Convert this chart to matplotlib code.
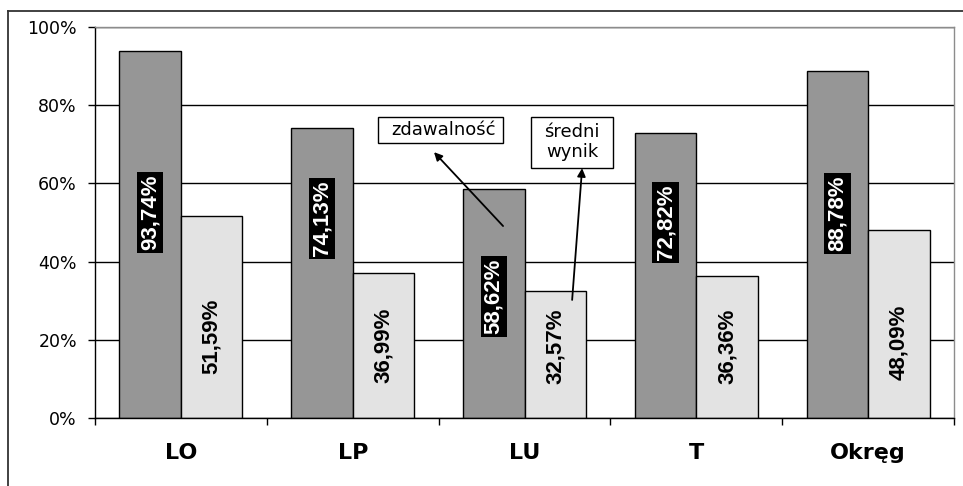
import numpy as np
import matplotlib
matplotlib.use("Agg")
import matplotlib.pyplot as plt
from matplotlib.patches import Rectangle
from matplotlib.lines import Line2D
from matplotlib import font_manager

# Data
categories = ["LO", "LP", "LU", "T", "Okręg"]
zdawalnosc = [93.74, 74.13, 58.62, 72.82, 88.78]
sredni_wynik = [51.59, 36.99, 32.57, 36.36, 48.09]
yticks = [0, 20, 40, 60, 80, 100]

# label heights (centre of rotated value labels), as placed in the original
dark_label_y = [52.6, 51.0, 31.1, 50.0, 52.4]
light_label_y = [20.8, 18.5, 18.4, 18.3, 19.4]

dark_color = "#969696"
light_color = "#e3e3e3"

names = {f.name for f in font_manager.fontManager.ttflist}
if "Liberation Sans Narrow" in names:
    lab_family, lab_size = "Liberation Sans Narrow", 19.5
else:
    lab_family, lab_size = "Liberation Sans", 16


def pct(v):
    return f"{v:.2f}%".replace(".", ",")


fig = plt.figure(figsize=(9.63, 4.86), dpi=100)
ax = fig.add_axes([0.0987, 0.1399, 0.892, 0.8045])

x = np.arange(len(categories))
w = 0.358

ax.bar(x - w / 2, zdawalnosc, w, color=dark_color, edgecolor="black", linewidth=1.0, zorder=2)
ax.bar(x + w / 2, sredni_wynik, w, color=light_color, edgecolor="black", linewidth=1.0, zorder=2)

# value labels
for i in range(len(categories)):
    ax.text(x[i] - w / 2, dark_label_y[i], pct(zdawalnosc[i]), rotation=90,
            ha="center", va="center", color="white", fontsize=lab_size, fontweight="bold",
            family=lab_family, zorder=4,
            bbox=dict(boxstyle="square,pad=0.12", facecolor="black", edgecolor="none"))
    ax.text(x[i] + w / 2, light_label_y[i], pct(sredni_wynik[i]), rotation=90,
            ha="center", va="center", color="black", fontsize=lab_size, fontweight="bold",
            family=lab_family, zorder=4)

# axes styling
ax.set_xlim(-0.5, len(categories) - 0.5)
ax.set_ylim(0, 100)
ax.set_yticks(yticks)
ax.set_yticklabels([f"{t}%" for t in yticks], fontsize=12.5)
ax.set_xticks(x)
ax.set_xticklabels(categories, fontsize=16, fontweight="bold")
ax.set_xticks(np.arange(-0.5, len(categories)), minor=True)
ax.tick_params(axis="x", which="major", length=0, pad=18)
ax.tick_params(axis="x", which="minor", length=5, width=1, direction="out")
ax.tick_params(axis="y", length=5, width=1, direction="out", pad=8)
ax.yaxis.grid(True, color="black", linewidth=1.0, zorder=1)
ax.set_axisbelow(True)
ax.spines["left"].set_color("black")
ax.spines["bottom"].set_color("black")
ax.spines["top"].set_color("#8c8c8c")
ax.spines["right"].set_color("#8c8c8c")
for s in ax.spines.values():
    s.set_linewidth(1.0)

# callout boxes
ax.add_patch(Rectangle((1.147, 70.3), 0.728, 6.7, facecolor="white", edgecolor="black",
                       linewidth=1.0, clip_on=False, zorder=5))
ax.text(1.526, 73.7, "zdawalność", ha="center", va="center", fontsize=13, zorder=6)
ax.add_patch(Rectangle((2.038, 63.9), 0.477, 13.1, facecolor="white", edgecolor="black",
                       linewidth=1.0, clip_on=False, zorder=5))
ax.text(2.277, 70.6, "średni\nwynik", ha="center", va="center", fontsize=13,
        linespacing=1.1, zorder=6)

ax.annotate("", xy=(1.473, 68.0), xytext=(1.875, 49.1),
            arrowprops=dict(arrowstyle="-|>", color="black", lw=1.3, mutation_scale=12,
                            shrinkA=0, shrinkB=0), zorder=6)
ax.annotate("", xy=(2.335, 63.9), xytext=(2.277, 30.2),
            arrowprops=dict(arrowstyle="-|>", color="black", lw=1.3, mutation_scale=12,
                            shrinkA=0, shrinkB=0), zorder=6)

# outer chart frame (cropped at right and bottom)
fx = 8 / 963
fy = 1 - 11 / 486
fig.add_artist(Line2D([fx, 1], [fy, fy], color="#333333", linewidth=1.3, transform=fig.transFigure))
fig.add_artist(Line2D([fx, fx], [0, fy], color="#333333", linewidth=1.3, transform=fig.transFigure))

fig.savefig("out.png", dpi=100)
